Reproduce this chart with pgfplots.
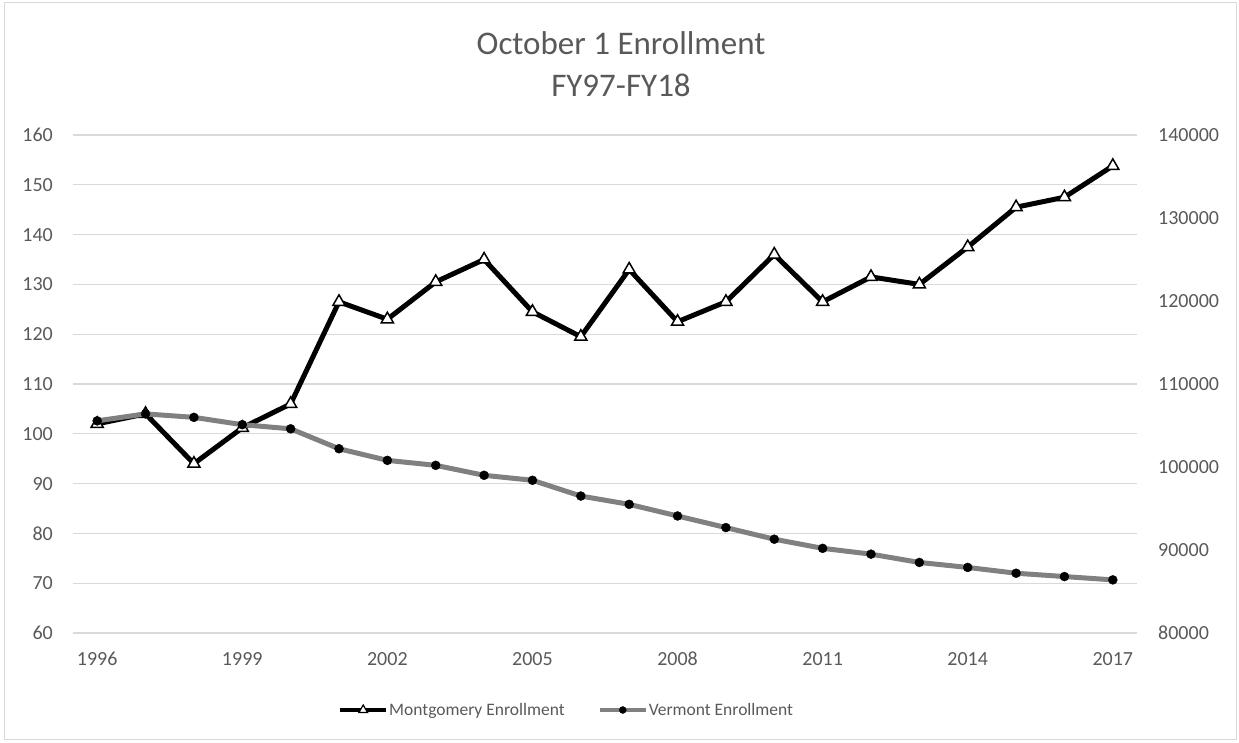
\documentclass[border=0pt]{standalone}
\usepackage{pgfplots}
\pgfplotsset{compat=1.18}
\usepackage{fontspec}
\setmainfont{Carlito}
\definecolor{txt}{RGB}{89,89,89}
\definecolor{gridc}{RGB}{217,217,217}
\definecolor{vline}{RGB}{128,128,128}
\begin{document}
\begin{tikzpicture}[x=1pt,y=1pt]
\path[use as bounding box] (0,0) rectangle (1239,742);
\draw[gridc, line width=1pt] (4.5,3) rectangle (1236.5,739.5);
\node[txt, font=\fontsize{33}{40}\selectfont, anchor=base] at (621,687) {October 1 Enrollment};
\node[txt, font=\fontsize{33}{40}\selectfont, anchor=base] at (621,645) {FY97-FY18};
\begin{axis}[
  at={(73pt,109pt)}, anchor=south west,
  scale only axis, width=1064pt, height=498pt,
  xmin=1995.5, xmax=2017.5, ymin=60, ymax=160,
  xtick={1996,1999,2002,2005,2008,2011,2014,2017},
  ytick={60,70,...,160},
  axis line style={draw=none},
  major tick length=0pt,
  xmajorgrids=false, ymajorgrids=true,
  major grid style={draw=gridc, line width=1.2pt},
  tick label style={txt, font=\fontsize{20}{24}\selectfont},
  /pgf/number format/assume math mode=true,
  /pgf/number format/fixed,
  /pgf/number format/1000 sep={},
  yticklabel style={anchor=east, inner sep=0pt, xshift=-20pt},
  xticklabel style={anchor=north, inner sep=0pt, yshift=-19pt},
  legend style={at={(265pt,-77pt)}, anchor=west, draw=none, fill=none,
    font=\fontsize{17.5}{21}\selectfont, text=txt,
    legend columns=2, inner sep=0pt,
    /tikz/every even column/.append style={column sep=32pt},
    nodes={inner sep=1pt}},
  legend image code/.code={\draw[#1, mark repeat=2, mark phase=2] plot coordinates {(0pt,0pt) (23pt,0pt) (46pt,0pt)};},
]
\addplot[black, line width=5pt, mark=triangle*, mark size=7pt,
  mark options={fill=white, draw=black, line width=1.5pt}, forget plot]
coordinates {
(1996,102) (1997,104) (1998,94) (1999,101.2) (2000,106) (2001,126.5)
(2002,123) (2003,130.5) (2004,135) (2005,124.5) (2006,119.5) (2007,133)
(2008,122.5) (2009,126.5) (2010,136) (2011,126.5) (2012,131.5) (2013,130)
(2014,137.5) (2015,145.5) (2016,147.5) (2017,153.8)
};
\addlegendimage{black, line width=4pt, mark=triangle*, mark size=5pt, mark options={fill=white, draw=black, line width=1.2pt}}
\addlegendentry{Montgomery Enrollment}
\addlegendimage{vline, line width=4pt, mark=*, mark size=3.5pt, mark options={fill=black, draw=black, line width=0.4pt}}
\addlegendentry{Vermont Enrollment}
\end{axis}
\begin{axis}[
  at={(73pt,109pt)}, anchor=south west,
  scale only axis, width=1064pt, height=498pt,
  xmin=1995.5, xmax=2017.5, ymin=80000, ymax=140000,
  ytick={80000,90000,...,140000},
  axis y line*=right, axis x line=none,
  axis line style={draw=none},
  major tick length=0pt,
  scaled y ticks=false,
  tick label style={txt, font=\fontsize{20}{24}\selectfont},
  /pgf/number format/assume math mode=true,
  /pgf/number format/fixed,
  /pgf/number format/1000 sep={},
  yticklabel style={anchor=west, inner sep=0pt},
  yticklabel shift=21pt,
]
\addplot[vline, line width=5pt, mark=*, mark size=4.5pt,
  mark options={fill=black, draw=black, line width=0.4pt}]
coordinates {
(1996,105560) (1997,106400) (1998,105980) (1999,105100) (2000,104600)
(2001,102200) (2002,100800) (2003,100200) (2004,99000) (2005,98400)
(2006,96500) (2007,95500) (2008,94100) (2009,92700) (2010,91300)
(2011,90200) (2012,89500) (2013,88500) (2014,87900) (2015,87200)
(2016,86800) (2017,86400)
};
\end{axis}
\end{tikzpicture}
\end{document}
